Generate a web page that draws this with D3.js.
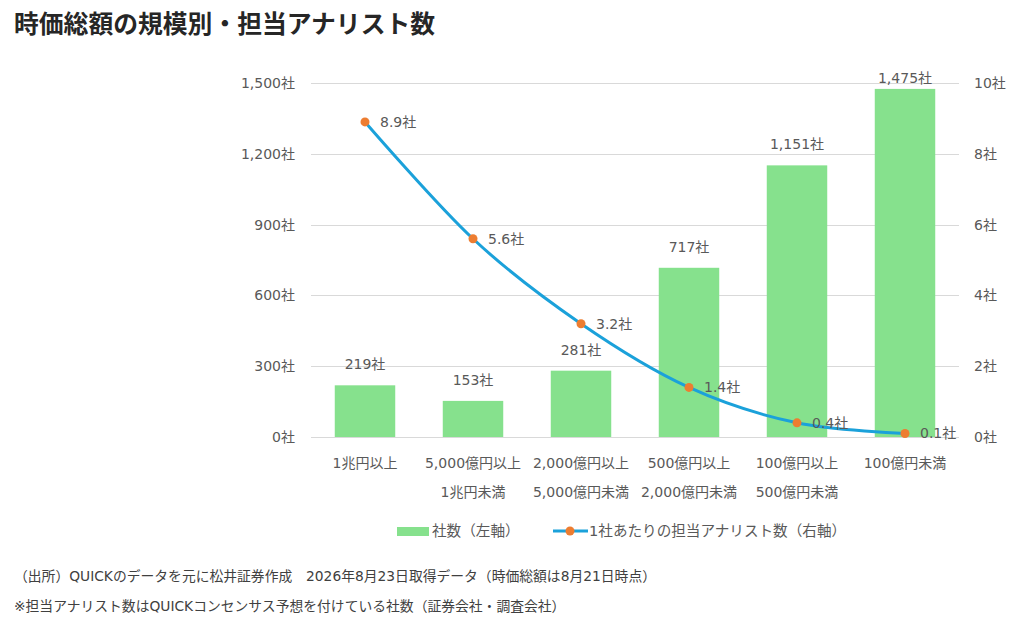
<!DOCTYPE html>
<html lang="ja">
<head>
<meta charset="UTF-8">
<title>時価総額の規模別・担当アナリスト数</title>
<script src="https://cdn.jsdelivr.net/npm/d3@7"></script>
<style>
  body { margin: 0; background: #fff; font-family: "DejaVu Sans", "Noto Sans CJK JP", sans-serif; }
  .title { font-family: "Noto Sans CJK JP", sans-serif; font-weight: bold; font-size: 24.8px; fill: #262626; }
  .tick-label { font-family: "DejaVu Sans", "Noto Sans CJK JP", sans-serif; font-size: 14px; fill: #595959; }
  .legend-label { font-size: 14.6px; }
  .grid-line { stroke: #d9d9d9; stroke-width: 1; shape-rendering: crispEdges; }
  .note { font-family: "DejaVu Sans", "Noto Sans CJK JP", sans-serif; font-size: 13.8px; fill: #404040; }
</style>
</head>
<body>
<div id="root"></div>
<script>
// data
let categories = [
  ["1兆円以上"],
  ["5,000億円以上", "1兆円未満"],
  ["2,000億円以上", "5,000億円未満"],
  ["500億円以上", "2,000億円未満"],
  ["100億円以上", "500億円未満"],
  ["100億円未満"]
]
let companyCounts = [219, 153, 281, 717, 1151, 1475]
let analystsPerCompany = [8.9, 5.6, 3.2, 1.4, 0.4, 0.1]
let leftTicks = [0, 300, 600, 900, 1200, 1500]
let rightTicks = [0, 2, 4, 6, 8, 10]

let width = 1029, height = 624
let plot = { left: 311, right: 959, top: 83, bottom: 437 }

let svg = d3.select("#root").append("svg").attr("width", width).attr("height", height)

svg.append("text").attr("class", "title").attr("x", 14).attr("y", 33)
  .text("時価総額の規模別・担当アナリスト数")

let x = d3.scaleBand().domain(d3.range(categories.length)).range([plot.left, plot.right]).paddingInner(0.44).paddingOuter(0.22)
let yL = d3.scaleLinear().domain([0, 1500]).range([plot.bottom, plot.top])
let yR = d3.scaleLinear().domain([0, 10]).range([plot.bottom, plot.top])

// grid + left axis
let leftAxis = svg.append("g").attr("transform", "translate(" + plot.left + ",0)")
  .call(d3.axisLeft(yL).tickValues(leftTicks).tickSize(0).tickPadding(16).tickFormat(d => d3.format(",")(d) + "社"))
leftAxis.select(".domain").remove()
leftAxis.attr("font-family", null).attr("font-size", null)
leftAxis.selectAll("text").attr("class", "tick-label")

leftAxis.selectAll("g.tick").append("line").classed("grid-line", true)
  .attr("x1", 0).attr("x2", plot.right - plot.left)

let rightAxis = svg.append("g").attr("transform", "translate(" + plot.right + ",0)")
  .call(d3.axisRight(yR).tickValues(rightTicks).tickSize(0).tickPadding(15).tickFormat(d => d + "社"))
rightAxis.select(".domain").remove()
rightAxis.attr("font-family", null).attr("font-size", null)
rightAxis.selectAll("text").attr("class", "tick-label")

// bars
svg.append("g").selectAll("rect").data(companyCounts).join("rect")
  .attr("x", (d, i) => x(i)).attr("width", x.bandwidth())
  .attr("y", d => yL(d)).attr("height", d => yL(0) - yL(d))
  .attr("fill", "#86e18d")

svg.append("g").selectAll("text").data(companyCounts).join("text")
  .attr("class", "tick-label")
  .attr("x", (d, i) => x(i) + x.bandwidth() / 2)
  .attr("y", d => Math.max(yL(d) - 16, 83))
  .attr("text-anchor", "middle")
  .text(d => d3.format(",")(d) + "社")

// x axis labels
let xAxis = svg.append("g").attr("transform", "translate(0," + plot.bottom + ")")
  .call(d3.axisBottom(x).tickSize(0).tickFormat(""))
xAxis.select(".domain").remove()
xAxis.attr("font-family", null).attr("font-size", null)
xAxis.selectAll("g.tick").each(function (d) {
  d3.select(this).selectAll("text.cat").data(categories[d]).join("text")
    .attr("class", "tick-label cat")
    .attr("y", (t, j) => 31 + j * 29)
    .attr("text-anchor", "middle")
    .text(t => t)
})

// line
let cx = i => x(i) + x.bandwidth() / 2
let line = d3.line().x((d, i) => cx(i)).y(d => yR(d)).curve(d3.curveCatmullRom.alpha(0))
svg.append("path").datum(analystsPerCompany)
  .attr("d", line).attr("fill", "none").attr("stroke", "#1ba1da").attr("stroke-width", 3)

svg.append("g").selectAll("circle").data(analystsPerCompany).join("circle")
  .attr("cx", (d, i) => cx(i)).attr("cy", d => yR(d)).attr("r", 4.5).attr("fill", "#ed7d31")

svg.append("g").selectAll("text").data(analystsPerCompany).join("text")
  .attr("class", "tick-label")
  .attr("x", (d, i) => cx(i) + 15).attr("y", d => yR(d) + 5)
  .text(d => d3.format(".1f")(d) + "社")

// legend
let lg = svg.append("g")
lg.append("rect").attr("x", 397).attr("y", 527).attr("width", 32).attr("height", 9).attr("fill", "#86e18d")
lg.append("text").attr("class", "tick-label legend-label").attr("x", 432).attr("y", 536).text("社数（左軸）")
lg.append("line").attr("x1", 553).attr("x2", 588).attr("y1", 531).attr("y2", 531).attr("stroke", "#1ba1da").attr("stroke-width", 3)
lg.append("circle").attr("cx", 570).attr("cy", 531).attr("r", 4.5).attr("fill", "#ed7d31")
lg.append("text").attr("class", "tick-label legend-label").attr("x", 589).attr("y", 536).text("1社あたりの担当アナリスト数（右軸）")

// notes
svg.append("text").attr("class", "note").attr("x", 14).attr("y", 581)
  .text("（出所）QUICKのデータを元に松井証券作成　2026年8月23日取得データ（時価総額は8月21日時点）")
svg.append("text").attr("class", "note").attr("x", 14).attr("y", 611)
  .text("※担当アナリスト数はQUICKコンセンサス予想を付けている社数（証券会社・調査会社）")
</script>
</body>
</html>
